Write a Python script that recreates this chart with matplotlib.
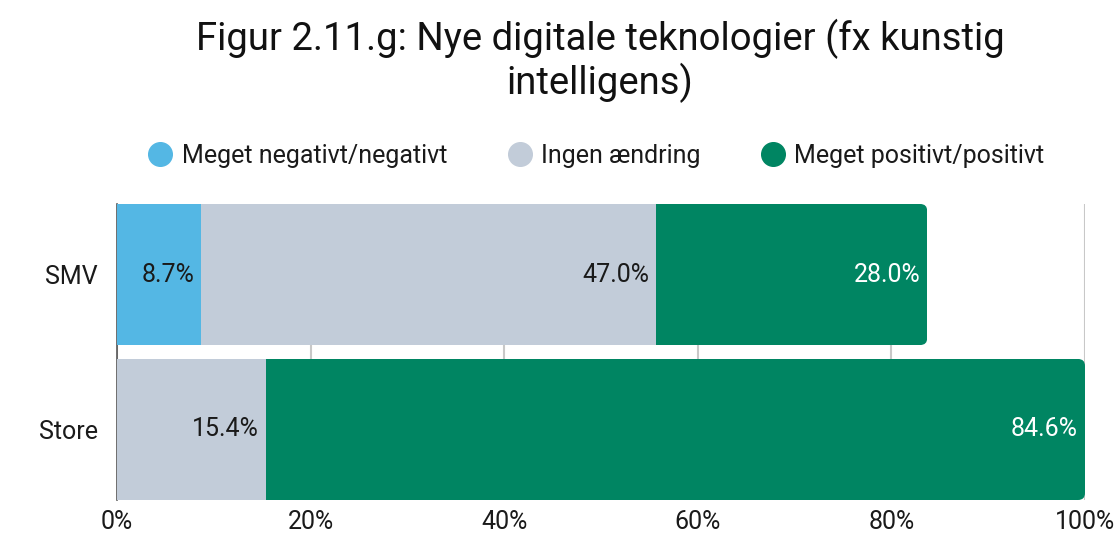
import matplotlib
matplotlib.use("Agg")
import matplotlib.pyplot as plt
from matplotlib.patches import FancyBboxPatch
from matplotlib.lines import Line2D

plt.rcParams['font.family'] = ['Roboto', 'DejaVu Sans']

categories = ["SMV", "Store"]
series_names = ["Meget negativt/negativt", "Ingen ændring", "Meget positivt/positivt"]
neg = [8.7, 0.0]
none = [47.0, 15.4]
pos = [28.0, 84.6]
colors = ["#54b7e4", "#c2ccd9", "#008562"]
label_colors = ["#1a1a1a", "#1a1a1a", "#ffffff"]
xticks = [0, 20, 40, 60, 80, 100]
xticklabels = ["0%", "20%", "40%", "60%", "80%", "100%"]
title = "Figur 2.11.g: Nye digitale teknologier (fx kunstig\nintelligens)"

W, H = 1118, 534
fig = plt.figure(figsize=(W / 100, H / 100), dpi=100)
ax_l, ax_r, ax_t, ax_b = 117, 1085, 204, 500
ax = fig.add_axes([ax_l / W, 1 - ax_b / H, (ax_r - ax_l) / W, (ax_b - ax_t) / H])

y = list(range(len(categories)))
bar_h = 0.91
series = [neg, none, pos]
lefts = [0.0] * len(categories)
containers = []
for vals, col in zip(series, colors):
    c = ax.barh(y, vals, left=lefts, height=bar_h, color=col, zorder=2, linewidth=0)
    containers.append((c, vals, list(lefts)))
    lefts = [l + v for l, v in zip(lefts, vals)]

ax.set_xlim(0, 100)
ax.set_ylim(1.455, -0.455)

# rounded right ends for the last segment
px_per_x = (ax_r - ax_l) / 100.0
px_per_y = (ax_b - ax_t) / 1.91
r_px = 7
r_x = r_px / px_per_x
aspect = (r_px / px_per_y) / r_x
last_c, last_vals, last_lefts = containers[-1]
for rect, v, l in zip(last_c.patches, last_vals, last_lefts):
    if v <= 0:
        continue
    yy = rect.get_y()
    clip = FancyBboxPatch((l - 5, yy), v + 5, bar_h,
                          boxstyle=f"round,pad=0,rounding_size={r_x}",
                          mutation_aspect=aspect, transform=ax.transData,
                          facecolor="none", edgecolor="none")
    ax.add_patch(clip)
    rect.set_clip_path(clip)

# value labels
for (c, vals, ls), tc in zip(containers, label_colors):
    for yi, v, l in zip(y, vals, ls):
        if v <= 0:
            continue
        ax.annotate(f"{v:.1f}%", xy=(l + v, yi), xytext=(-5, 0), textcoords="offset points",
                    ha="right", va="center", fontsize=18, color=tc, zorder=4)

ax.set_yticks(y)
ax.set_yticklabels(categories, fontsize=18, color="#1a1a1a")
ax.set_xticks(xticks)
ax.set_xticklabels(xticklabels, fontsize=18, color="#1a1a1a")
ax.tick_params(axis="both", length=0)
ax.tick_params(axis="y", pad=14)
ax.tick_params(axis="x", pad=7)
ax.grid(axis="x", color="#c8c8c8", linewidth=1.5, zorder=0)
ax.set_axisbelow(True)
for s in ["top", "right", "bottom"]:
    ax.spines[s].set_visible(False)
ax.spines["left"].set_color("#555555")
ax.spines["left"].set_linewidth(1.2)
ax.spines["left"].set_zorder(1)

fig.text(600 / W, 1 - 61 / H, title, ha="center", va="center", fontsize=27.5,
         fontweight="normal", color="#111111", linespacing=1.1)

handles = [Line2D([0], [0], marker="o", linestyle="none", markersize=17,
                  markerfacecolor=col, markeredgecolor=col) for col in colors]
fig.legend(handles, series_names, loc="center", bbox_to_anchor=(596 / W, 1 - 156 / H),
           ncol=3, frameon=False, fontsize=18, handletextpad=0.35, columnspacing=2.4,
           handlelength=1.0, labelcolor="#1a1a1a")

fig.savefig("out.png", dpi=100)
